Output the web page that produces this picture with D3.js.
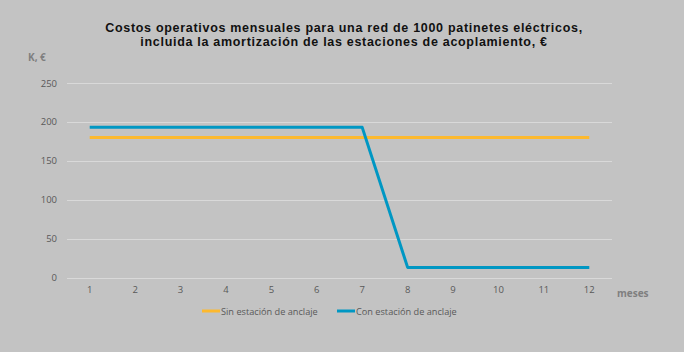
<!DOCTYPE html>
<html>
<head>
<meta charset="utf-8">
<script src="https://cdn.jsdelivr.net/npm/d3@7"></script>
<style>
    body { margin: 0; background: #c3c3c3; }
    svg { display: block; }
</style>
</head>
<body>
<svg id="chart"></svg>
<script>
// Data
let months = ["1", "2", "3", "4", "5", "6", "7", "8", "9", "10", "11", "12"];
let sinEstacion = [180, 180, 180, 180, 180, 180, 180, 180, 180, 180, 180, 180];
let conEstacion = [193, 193, 193, 193, 193, 193, 193, 13, 13, 13, 13, 13];
let yTicks = [0, 50, 100, 150, 200, 250];
let seriesNames = ["Sin estación de anclaje", "Con estación de anclaje"];
let titleLines = [
    "Costos operativos mensuales para una red de 1000 patinetes eléctricos,",
    "incluida la amortización de las estaciones de acoplamiento, €"
];

let width = 684, height = 352;
let margin = { top: 83, right: 72, bottom: 74, left: 67 };
let colors = ["#fdb92e", "#0097c3"];
let font = "'Open Sans', sans-serif";

let svg = d3.select("#chart")
    .attr("width", width)
    .attr("height", height);

svg.append("rect")
    .attr("width", width)
    .attr("height", height)
    .attr("fill", "#c3c3c3");

// Scales
let x = d3.scaleBand()
    .domain(months)
    .range([margin.left, width - margin.right]);

let y = d3.scaleLinear()
    .domain([0, 250])
    .range([height - margin.bottom - 0.5, margin.top]);

// Grid
svg.append("g")
    .selectAll("line")
    .data(yTicks)
    .join("line")
    .attr("x1", margin.left)
    .attr("x2", width - margin.right)
    .attr("y1", d => Math.round(y(d)) + 0.5)
    .attr("y2", d => Math.round(y(d)) + 0.5)
    .attr("stroke", "#d9d9d9")
    .attr("stroke-width", 1);

// Y axis
let yAxis = g => g
    .attr("transform", `translate(${margin.left - 10},0)`)
    .call(d3.axisLeft(y).tickValues(yTicks).tickSize(0).tickPadding(0))
    .call(g => g.select(".domain").remove())
    .call(g => g.selectAll("text")
        .attr("fill", "#595959")
        .style("font-family", font)
        .style("font-size", "9.5px"));

svg.append("g").call(yAxis);

// X axis
let xAxis = g => g
    .attr("transform", `translate(0,${y(0) + 9})`)
    .call(d3.axisBottom(x).tickSize(0).tickPadding(0))
    .call(g => g.select(".domain").remove())
    .call(g => g.selectAll("text")
        .attr("fill", "#595959")
        .style("font-family", font)
        .style("font-size", "9.5px"));

svg.append("g").call(xAxis);

// Lines
let line = d3.line()
    .x((d, i) => x(months[i]) + x.bandwidth() / 2)
    .y(d => y(d));

[sinEstacion, conEstacion].forEach((values, i) => {
    svg.append("path")
        .datum(values)
        .attr("fill", "none")
        .attr("stroke", colors[i])
        .attr("stroke-width", 3)
        .attr("stroke-linejoin", "round")
        .attr("d", line);
});

// Title, one text per line
svg.append("g")
    .selectAll("text")
    .data(titleLines)
    .join("text")
    .attr("x", 344)
    .attr("y", (d, i) => 32 + i * 14)
    .attr("text-anchor", "middle")
    .style("font-family", "'Liberation Sans', Arial, sans-serif")
    .style("font-weight", "bold")
    .style("font-size", "12.5px")
    .style("letter-spacing", "0.7px")
    .attr("fill", "#111")
    .text(d => d);

// Axis titles
svg.append("text")
    .attr("x", 28)
    .attr("y", 61)
    .style("font-family", font)
    .style("font-weight", "bold")
    .style("font-size", "10px")
    .attr("fill", "#7f7f7f")
    .text("K, €");

svg.append("text")
    .attr("x", 617)
    .attr("y", 297)
    .style("font-family", font)
    .style("font-weight", "bold")
    .style("font-size", "10px")
    .attr("fill", "#7f7f7f")
    .text("meses");

// Legend
let legendX = [202, 337];
let legend = svg.append("g")
    .selectAll("g")
    .data(seriesNames)
    .join("g")
    .attr("transform", (d, i) => `translate(${legendX[i]},311)`);

legend.append("line")
    .attr("x1", 0)
    .attr("x2", 18)
    .attr("stroke", (d, i) => colors[i])
    .attr("stroke-width", 3);

legend.append("text")
    .attr("x", 19)
    .attr("y", 3.5)
    .style("font-family", font)
    .style("font-size", "9.2px")
    .attr("fill", "#595959")
    .text(d => d);
</script>
</body>
</html>
